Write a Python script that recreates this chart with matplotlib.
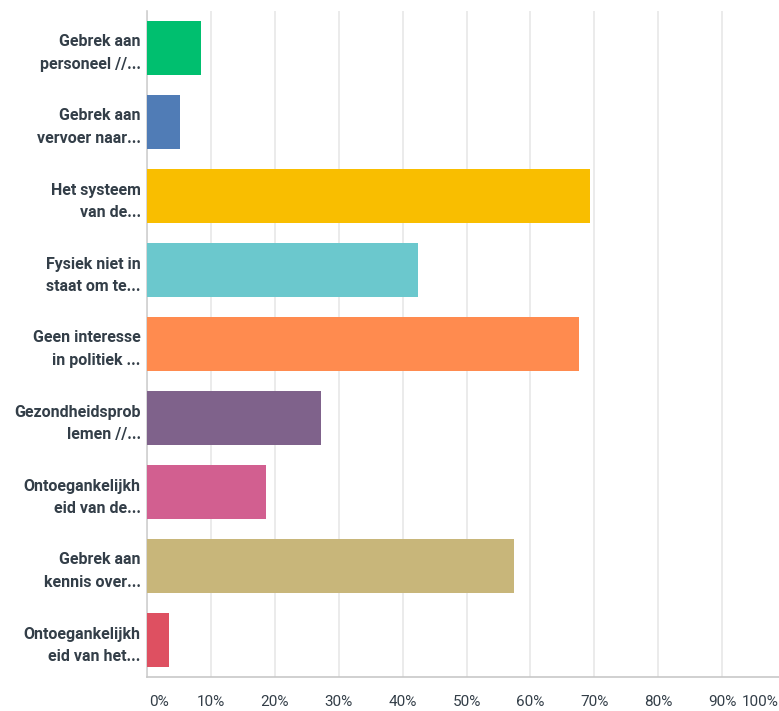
import matplotlib
matplotlib.use("Agg")
import matplotlib.pyplot as plt
from matplotlib.transforms import ScaledTranslation

categories = [
    "Gebrek aan\npersoneel //...",
    "Gebrek aan\nvervoer naar...",
    "Het systeem\nvan de...",
    "Fysiek niet in\nstaat om te...",
    "Geen interesse\nin politiek ...",
    "Gezondheidsprob\nlemen //...",
    "Ontoegankelijkh\neid van de...",
    "Gebrek aan\nkennis over...",
    "Ontoegankelijkh\neid van het...",
]
values = [8.5, 5.1, 69.3, 42.4, 67.6, 27.2, 18.6, 57.4, 3.4]
colors = ["#00bf6f", "#507cb6", "#f9be00", "#6bc8cd", "#ff8b4f",
          "#7f628b", "#d25f90", "#c8b67a", "#de5061"]
ticks = [0, 10, 20, 30, 40, 50, 60, 70, 80, 90, 100]
tick_labels = ["0%", "10%", "20%", "30%", "40%", "50%", "60%", "70%", "80%", "90%", "100%"]

plt.rcParams["font.family"] = ["Roboto", "DejaVu Sans"]
text_color = "#333e48"

fig = plt.figure(figsize=(7.79, 7.11), dpi=100)
ax = fig.add_axes([147 / 779, 34 / 711, 639 / 779, 666 / 711])

ypos = list(range(len(categories)))
ax.barh(ypos, values, height=0.72, color=colors, zorder=3)
ax.set_ylim(len(categories) - 0.5, -0.5)
ax.set_xlim(0, 100)

ax.set_yticks(ypos)
ax.set_yticklabels(categories, fontsize=11.5, fontweight="semibold",
                   color=text_color, linespacing=1.6)
ax.set_xticks(ticks)
ax.set_xticklabels(tick_labels, fontsize=11, color=text_color)
ax.tick_params(axis="y", length=0, pad=4.5)
ax.tick_params(axis="x", length=0, pad=13)

xlabels = ax.get_xticklabels()
xlabels[0].set_transform(xlabels[0].get_transform() + ScaledTranslation(0.12, 0, fig.dpi_scale_trans))
xlabels[-1].set_transform(xlabels[-1].get_transform() + ScaledTranslation(-0.255, 0, fig.dpi_scale_trans))

ax.grid(axis="x", color="#e8e8e8", linewidth=1.2, zorder=0)
for side in ["top", "right"]:
    ax.spines[side].set_visible(False)
ax.spines["left"].set_color("#d0d0d0")
ax.spines["bottom"].set_color("#c8c8c8")
ax.spines["left"].set_linewidth(1.2)
ax.spines["bottom"].set_linewidth(1.2)

fig.savefig("out.png", dpi=100)
